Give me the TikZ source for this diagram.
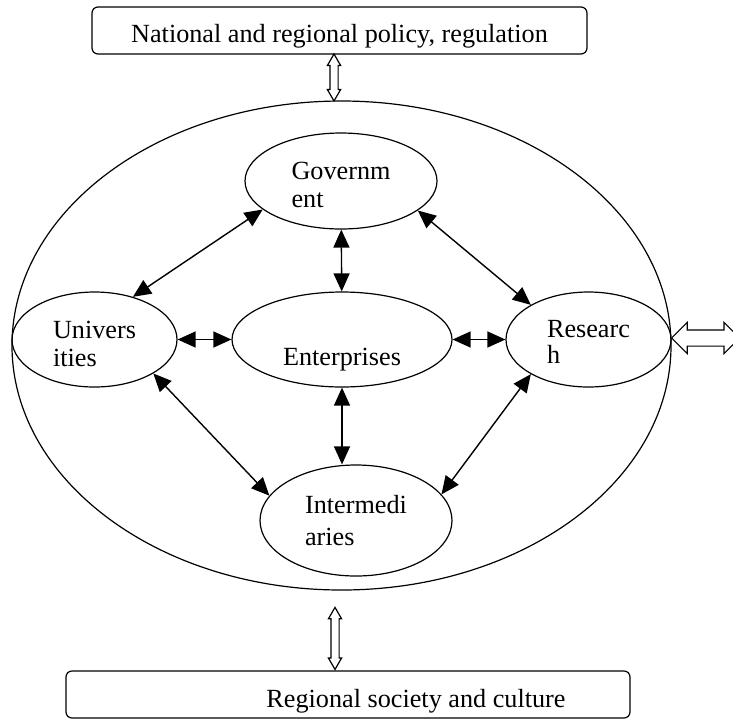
\documentclass[tikz,border=0pt]{standalone}
\usepackage{fontspec}
\setmainfont{Liberation Serif}
\usetikzlibrary{shapes.geometric,shapes.arrows,arrows.meta,calc}

\begin{document}
\begin{tikzpicture}
  [x=0.5pt,y=-0.5pt,every node/.style={draw,ellipse,inner sep=0pt,line width=0.6pt,
   font=\fontsize{13.1}{14}\selectfont,text height=0pt}]

  \tikzstyle{frame} = [rectangle, rounded corners=3pt, text depth=0pt]
  \tikzstyle{hollow} = [double arrow, fill=white, inner xsep=0pt, inner ysep=1.75pt,
                        double arrow head extend=1.25pt, double arrow tip angle=60]

  \useasboundingbox (0,0) rectangle (733,719);

  \node[minimum width=329.5pt, minimum height=244.5pt] (sys) at (341.5,345.5) {};

  \node[minimum width=96pt, minimum height=48pt, text depth=2pt] (gov) at (341,181)
        {\begin{tabular}[t]{@{}l@{}}Governm\\ent\end{tabular}};
  \node[minimum width=82.5pt, minimum height=47.5pt, text depth=1.5pt] (univ) at (94.5,339.5)
        {\begin{tabular}[t]{@{}l@{}}Univers\\ities\end{tabular}};
  \node[minimum width=110pt, minimum height=47.5pt,
        text height=25.5pt, text depth=0pt] (ent) at (342,339.5) {Enterprises};
  \node[minimum width=82.5pt, minimum height=47.5pt, text depth=2.5pt] (res) at (588.5,339.5)
        {\begin{tabular}[t]{@{}l@{}}Researc\\[-1pt]h\end{tabular}};
  \node[minimum width=96pt, minimum height=55.5pt, text depth=7.5pt] (inter) at (356,520.5)
        {\begin{tabular}[t]{@{}l@{}}Intermedi\\[2pt]aries\end{tabular}};

  \node[frame, minimum width=247.5pt, minimum height=23.5pt, text height=11.5pt]
        (policy) at (339.5,30.5) {National and regional policy, regulation};
  \node[frame, minimum width=282pt, minimum height=23.5pt, text height=12.5pt]
        (society) at (348,694.5) {\hspace*{68pt}Regional society and culture};

  \path[<->, >={Triangle[length=9pt,width=8pt]}, line width=0.7pt]
        (univ.48)    edge (gov.200)
        (gov.339)    edge (res.149)
        (univ.330)   edge (inter.164)
        (res.211)    edge (inter.17)
        (gov)        edge (ent)
        (univ)       edge (ent)
        (ent)        edge (res)
        (ent.south)  edge (ent.south |- inter.north);

  \node[hollow, rotate=90, minimum height=23.5pt] (up)
        at ($(policy.south)!0.5!(sys.north)+(-6.5,0)$) {};
  \node[hollow, rotate=90, minimum height=31pt] (down)
        at ($(society.north)+(-13,-32)$) {};
  \node[hollow, minimum height=34pt, inner ysep=3.75pt,
        double arrow head extend=3.75pt, double arrow tip angle=90] (out)
        at ($(sys.east)+(34,-7.5)$) {};
\end{tikzpicture}
\end{document}
